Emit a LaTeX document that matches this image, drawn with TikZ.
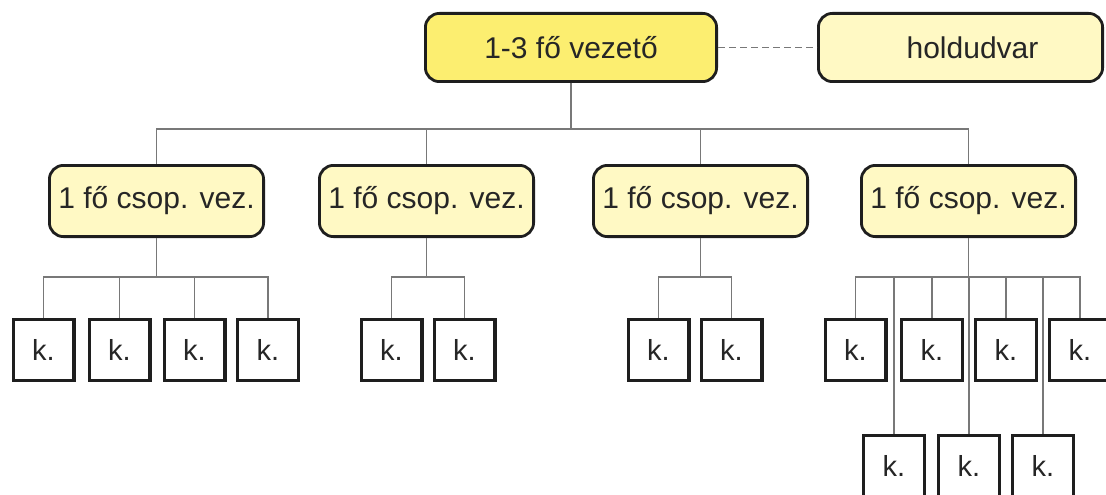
\documentclass[tikz,border=0pt]{standalone}
\usepackage{fontspec}
\setmainfont{Liberation Sans}
\definecolor{topfill}{RGB}{252,238,112}
\definecolor{palefill}{RGB}{255,249,196}
\definecolor{edge}{RGB}{30,30,30}
\definecolor{connc}{RGB}{120,120,120}
\begin{document}
\begin{tikzpicture}[x=1pt,y=-1pt,
  lead/.style={draw=edge,line width=2.8pt,rounded corners=14pt,inner sep=0pt,
     font=\fontsize{30}{35}\selectfont,text=black!85},
  topbox/.style={lead,fill=topfill,minimum width=291.2pt,minimum height=68.2pt},
  moonbox/.style={lead,fill=palefill,minimum width=284.2pt,minimum height=68.2pt},
  grpbox/.style={lead,fill=palefill,minimum width=214.2pt,minimum height=71.2pt},
  kbox/.style={draw=edge,line width=3.4pt,fill=white,inner sep=0pt,
     minimum width=60.6pt,minimum height=60.6pt,
     font=\fontsize{29}{34}\selectfont,text=black!85},
  conn/.style={draw=connc,line width=1.3pt},
  dashconn/.style={draw=connc,line width=1.3pt,dash pattern=on 7pt off 4pt}]
\useasboundingbox (0,0) rectangle (1106,495);
% top level
\node[topbox] (t) at (571,47.5) {1-3 fő vezető};
\node[moonbox] (h) at (960.5,47.5) {\hspace*{24pt}holdudvar};
\draw[dashconn] (t.east) -- (h.west);
% group leaders
\node[grpbox] (g1) at (156.5,201) {1 fő csop. vez.};
\node[grpbox] (g2) at (426.5,201) {1 fő csop. vez.};
\node[grpbox] (g3) at (700.5,201) {1 fő csop. vez.};
\node[grpbox] (g4) at (968.5,201) {1 fő csop. vez.};
\foreach \g in {g1,g2,g3,g4}
  \draw[conn] (t.south) -- ++(0,46) -| (\g.north);
% members
\node[kbox] (a1) at (43.5,350) {k.};
\node[kbox] (a2) at (119.5,350) {k.};
\node[kbox] (a3) at (194.5,350) {k.};
\node[kbox] (a4) at (268,350) {k.};
\node[kbox] (b1) at (391.5,350) {k.};
\node[kbox] (b2) at (464.5,350) {k.};
\node[kbox] (c1) at (658.5,350) {k.};
\node[kbox] (c2) at (731.5,350) {k.};
\node[kbox] (d1) at (855.5,350) {k.};
\node[kbox] (d2) at (932,350) {k.};
\node[kbox] (d3) at (1006,350) {k.};
\node[kbox] (d4) at (1080,350) {k.};
\node[kbox] (e1) at (894,466) {k.};
\node[kbox] (e2) at (969,466) {k.};
\node[kbox] (e3) at (1043,466) {k.};
\foreach \k in {a1,a2,a3,a4}
  \draw[conn] (g1.south) -- ++(0,39) -| (\k.north);
\foreach \k in {b1,b2}
  \draw[conn] (g2.south) -- ++(0,39) -| (\k.north);
\foreach \k in {c1,c2}
  \draw[conn] (g3.south) -- ++(0,39) -| (\k.north);
\foreach \k in {d1,d2,d3,d4,e1,e2,e3}
  \draw[conn] (g4.south) -- ++(0,39) -| (\k.north);
\end{tikzpicture}
\end{document}
